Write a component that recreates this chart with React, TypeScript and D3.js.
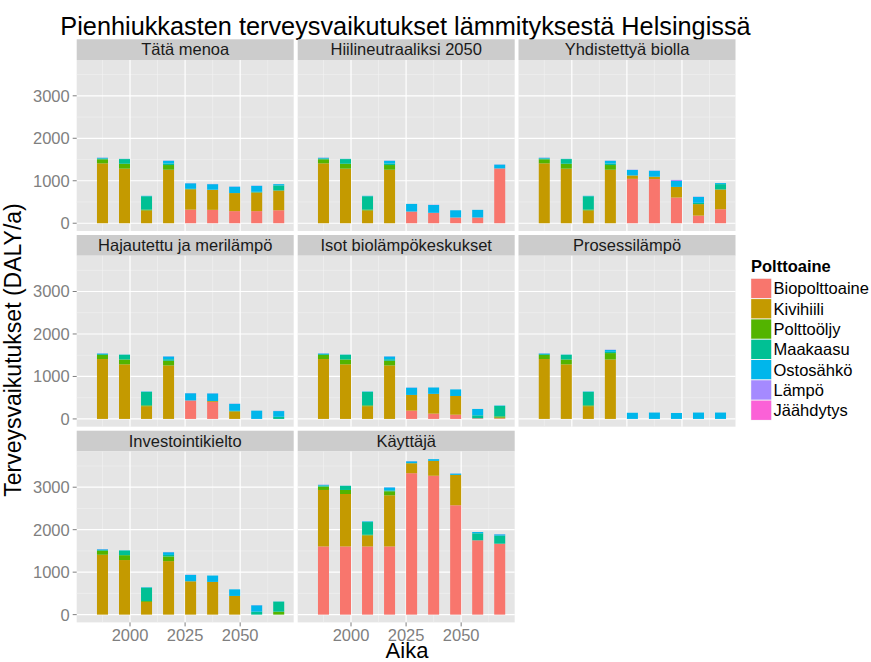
import React from "react";
import * as d3 from "d3";

// ---------- data ----------
const title = "Pienhiukkasten terveysvaikutukset lämmityksestä Helsingissä";
const xTitle = "Aika";
const yTitle = "Terveysvaikutukset (DALY/a)";
const legendTitle = "Polttoaine";

const years = [1990, 2000, 2010, 2020, 2030, 2040, 2050, 2060, 2070];
const fuels = ["Biopolttoaine", "Kivihiili", "Polttoöljy", "Maakaasu", "Ostosähkö", "Lämpö", "Jäähdytys"];
const fuelColors = ["#F8766D", "#C49A00", "#53B400", "#00C094", "#00B6EB", "#A58AFF", "#FB61D7"];
const xTicks = [2000, 2025, 2050];
const yTicks = [0, 1000, 2000, 3000];

const scenarios = [
  "Tätä menoa",
  "Hiilineutraaliksi 2050",
  "Yhdistettyä biolla",
  "Hajautettu ja merilämpö",
  "Isot biolämpökeskukset",
  "Prosessilämpö",
  "Investointikielto",
  "Käyttäjä",
];

// rows: fuels (same order as `fuels`), columns: years
const tataMenoa = [
  [0, 0, 0, 0, 320, 315, 285, 285, 305],
  [1410, 1285, 300, 1260, 480, 470, 425, 440, 465],
  [95, 115, 20, 110, 0, 0, 0, 0, 0],
  [20, 110, 315, 35, 10, 5, 0, 15, 120],
  [15, 5, 10, 65, 130, 130, 150, 140, 30],
  [5, 0, 0, 5, 5, 5, 5, 5, 0],
  [0, 0, 0, 0, 0, 0, 0, 0, 0],
];
const hiilineutraali = [
  [0, 0, 0, 0, 275, 245, 135, 135, 1290],
  [1410, 1285, 300, 1260, 0, 0, 0, 0, 0],
  [95, 115, 20, 110, 0, 0, 0, 0, 0],
  [20, 110, 315, 35, 0, 0, 0, 0, 0],
  [15, 5, 10, 65, 180, 185, 170, 180, 90],
  [5, 0, 0, 5, 0, 5, 0, 0, 5],
  [0, 0, 0, 0, 0, 0, 0, 0, 0],
];
const yhdistetty = [
  [0, 0, 0, 0, 1045, 1040, 605, 180, 330],
  [1410, 1285, 300, 1260, 80, 55, 250, 270, 465],
  [95, 115, 20, 110, 0, 0, 0, 0, 0],
  [20, 110, 315, 35, 0, 0, 0, 30, 125],
  [15, 5, 10, 65, 130, 140, 140, 140, 25],
  [5, 0, 0, 5, 5, 5, 25, 5, 0],
  [0, 0, 0, 0, 0, 0, 0, 0, 0],
];
const hajautettu = [
  [0, 0, 0, 0, 435, 400, 0, 0, 0],
  [1410, 1285, 300, 1260, 0, 20, 180, 0, 0],
  [95, 115, 20, 110, 0, 0, 0, 0, 0],
  [20, 110, 315, 35, 0, 0, 10, 0, 50],
  [15, 5, 10, 65, 170, 180, 165, 195, 135],
  [5, 0, 0, 5, 5, 5, 5, 0, 5],
  [0, 0, 0, 0, 0, 0, 0, 0, 0],
];
const isotBio = [
  [0, 0, 0, 0, 195, 125, 100, 15, 15],
  [1410, 1285, 300, 1260, 370, 465, 440, 0, 15],
  [95, 115, 20, 110, 0, 0, 0, 0, 30],
  [20, 110, 315, 35, 0, 0, 0, 70, 245],
  [15, 5, 10, 65, 170, 150, 155, 150, 10],
  [5, 0, 0, 5, 5, 0, 0, 0, 0],
  [0, 0, 0, 0, 0, 0, 0, 0, 0],
];
const prosessi = [
  [0, 0, 0, 0, 0, 0, 0, 0, 0],
  [1410, 1285, 300, 1400, 0, 0, 0, 0, 0],
  [95, 115, 20, 150, 0, 0, 0, 0, 0],
  [20, 110, 315, 30, 0, 0, 0, 0, 0],
  [15, 5, 10, 45, 145, 150, 140, 150, 150],
  [5, 0, 0, 5, 0, 0, 0, 0, 0],
  [0, 0, 0, 0, 0, 0, 0, 0, 0],
];
const investointi = [
  [0, 0, 0, 0, 0, 0, 0, 0, 0],
  [1410, 1285, 300, 1260, 785, 770, 440, 0, 0],
  [95, 115, 20, 110, 0, 0, 0, 0, 70],
  [20, 110, 315, 35, 0, 0, 0, 70, 235],
  [15, 5, 10, 65, 150, 150, 155, 150, 5],
  [5, 0, 0, 5, 5, 0, 0, 5, 0],
  [0, 0, 0, 0, 0, 0, 0, 0, 0],
];
const kayttaja = [
  [1605, 1605, 1605, 1605, 3330, 3270, 2575, 1750, 1670],
  [1330, 1235, 260, 1205, 235, 350, 715, 0, 0],
  [80, 95, 15, 95, 0, 0, 0, 0, 0],
  [25, 95, 300, 20, 0, 0, 0, 165, 190],
  [15, 5, 15, 70, 45, 40, 30, 30, 30],
  [5, 0, 0, 5, 5, 0, 5, 0, 5],
  [0, 0, 0, 0, 0, 0, 0, 0, 0],
];
const scenarioData = [tataMenoa, hiilineutraali, yhdistetty, hajautettu, isotBio, prosessi, investointi, kayttaja];

// ---------- layout ----------
const W = 871;
const H = 662;
const FONT = "'Liberation Sans', Arial, Helvetica, sans-serif";
const panelW = 217;
const colX = [76.7, 297.7, 518.5];
const stripTop = [39.3, 235, 430.7];
const stripH = 20.7;
const plotH = 171;
const nCols = 3;
const barShift = -2.5;
const barWidthYears = 5;

export default function App() {
  const tables = scenarioData.map((m) =>
    years.map((y, j) => {
      const row: any = { year: y };
      fuels.forEach((f, i) => (row[f] = m[i][j]));
      return row;
    })
  );
  const stack = d3.stack<any>().keys(fuels);
  const stacked = tables.map((t) => stack(t));
  const maxVal = d3.max(stacked.flat(2).map((d: any) => d[1])) as number;
  const yDomain = [-0.05 * maxVal, 1.05 * maxVal];

  const x = d3.scaleLinear().domain([1975.8, 2074.3]).range([0, panelW]);
  const y = d3.scaleLinear().domain(yDomain).range([plotH, 0]);
  const xMinor = d3.range(1987.5, 2074, 25);
  const yMinor = d3.range(500, yDomain[1], 1000);
  const bw = x(barWidthYears) - x(0);
  const lastRow = Math.floor((scenarios.length - 1) / nCols);

  return (
    <svg
      width={W}
      height={H}
      style={{ position: "absolute", left: 0, top: 0, background: "#fff" }}
      fontFamily={FONT}
    >
      <rect width={W} height={H} fill="#fff" />
      <text x={405.5} y={35} fontSize={25.3} textAnchor="middle" fill="#000">
        {title}
      </text>

      {scenarios.map((name, si) => {
        const col = si % nCols;
        const row = Math.floor(si / nCols);
        const px = colX[col];
        const st = stripTop[row];
        const py = st + stripH;
        const isBottom = row === lastRow;
        return (
          <g key={name}>
            <rect x={px} y={st} width={panelW} height={stripH} fill="#CCCCCC" />
            <text
              x={px + panelW / 2}
              y={st + stripH / 2}
              dy="0.35em"
              textAnchor="middle"
              fontSize={16.5}
              fill="#1A1A1A"
            >
              {name}
            </text>
            <g transform={`translate(${px},${py})`}>
              <rect width={panelW} height={plotH} fill="#E5E5E5" />
              {yMinor.map((v) => (
                <line key={"ym" + v} x1={0} x2={panelW} y1={y(v)} y2={y(v)} stroke="#F2F2F2" strokeWidth={0.6} />
              ))}
              {xMinor.map((v) => (
                <line key={"xm" + v} x1={x(v)} x2={x(v)} y1={0} y2={plotH} stroke="#F2F2F2" strokeWidth={0.6} />
              ))}
              {yTicks.map((v) => (
                <line key={"yM" + v} x1={0} x2={panelW} y1={y(v)} y2={y(v)} stroke="#FFFFFF" strokeWidth={1.2} />
              ))}
              {xTicks.map((v) => (
                <line key={"xM" + v} x1={x(v)} x2={x(v)} y1={0} y2={plotH} stroke="#FFFFFF" strokeWidth={1.2} />
              ))}
              {stacked[si].map((layer, li) =>
                layer.map((d: any, j: number) => {
                  const h = y(d[0]) - y(d[1]);
                  if (h <= 0) return null;
                  return (
                    <rect
                      key={li + "-" + j}
                      x={x(d.data.year + barShift) - bw / 2}
                      y={y(d[1])}
                      width={bw}
                      height={h}
                      fill={fuelColors[li]}
                    />
                  );
                })
              )}
            </g>
            {col === 0 &&
              yTicks.map((v) => (
                <g key={"yt" + v}>
                  <line x1={px - 4} x2={px} y1={py + y(v)} y2={py + y(v)} stroke="#7F7F7F" strokeWidth={1} />
                  <text
                    x={px - 7}
                    y={py + y(v)}
                    dy="0.36em"
                    textAnchor="end"
                    fontSize={16.5}
                    fill="#7F7F7F"
                  >
                    {v}
                  </text>
                </g>
              ))}
            {isBottom &&
              xTicks.map((v) => (
                <g key={"xt" + v}>
                  <line x1={px + x(v)} x2={px + x(v)} y1={py + plotH} y2={py + plotH + 4} stroke="#7F7F7F" strokeWidth={1} />
                  <text x={px + x(v)} y={py + plotH + 18.5} textAnchor="middle" fontSize={16.5} fill="#7F7F7F">
                    {v}
                  </text>
                </g>
              ))}
          </g>
        );
      })}

      <text x={407} y={657.5} fontSize={22} textAnchor="middle" fill="#000">
        {xTitle}
      </text>
      <text
        transform={`translate(${21},${350}) rotate(-90)`}
        fontSize={23}
        textAnchor="middle"
        fill="#000"
      >
        {yTitle}
      </text>

      <g>
        <text x={751} y={272} fontSize={16.5} fontWeight="bold" fill="#000">
          {legendTitle}
        </text>
        {fuels.map((f, i) => {
          const ky = 278.3 + i * 20.3;
          return (
            <g key={f}>
              <rect x={750.7} y={ky} width={21} height={20.3} fill="#F2F2F2" />
              <rect x={751.2} y={ky + 0.5} width={20} height={19.3} fill={fuelColors[i]} />
              <text x={773.5} y={ky + 10.15} dy="0.36em" fontSize={16.5} fill="#000">
                {f}
              </text>
            </g>
          );
        })}
      </g>
    </svg>
  );
}
